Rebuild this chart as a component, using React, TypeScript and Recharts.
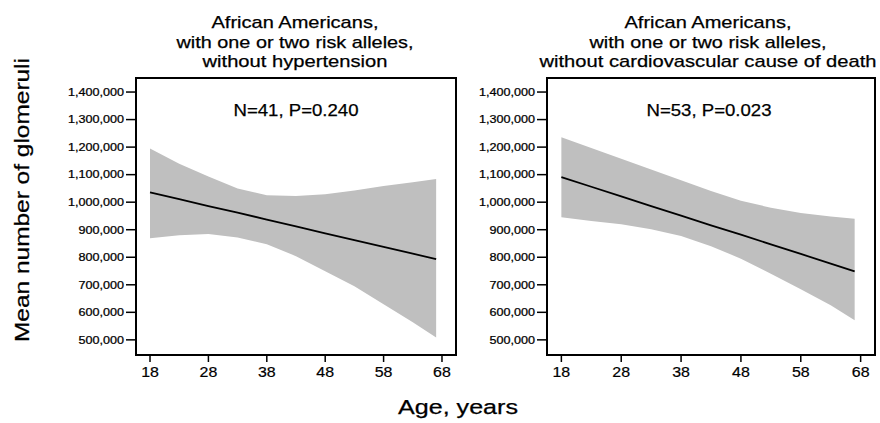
import React from "react";
import { ComposedChart, Area, Line, XAxis, YAxis, ReferenceArea } from "recharts";

const ages = [18, 23, 28, 33, 38, 43, 48, 53, 58, 63, 67];

// left panel: without hypertension
const leftFit = [1036000, 1011000, 986000, 962000, 937000, 912000, 887000, 862000, 838000, 813000, 793000];
const leftLo = [869000, 880000, 884000, 872000, 847000, 804000, 749000, 695000, 629000, 564000, 509000];
const leftHi = [1195000, 1140000, 1093000, 1050000, 1025000, 1022000, 1029000, 1042000, 1059000, 1072000, 1084000];

// right panel: without cardiovascular cause of death
const rightFit = [1091000, 1056000, 1021000, 986000, 951000, 916000, 882000, 847000, 812000, 777000, 749000];
const rightLo = [945000, 932000, 920000, 902000, 877000, 840000, 795000, 740000, 684000, 626000, 571000];
const rightHi = [1236000, 1197000, 1158000, 1119000, 1080000, 1041000, 1005000, 980000, 961000, 948000, 940000];

const xTicks = [18, 28, 38, 48, 58, 68];
const yTicks = [500000, 600000, 700000, 800000, 900000, 1000000, 1100000, 1200000, 1300000, 1400000];
const xDomain: [number, number] = [15.6, 70.4];
const yDomain: [number, number] = [445000, 1451000];

const leftTitle = ["African Americans,", "with one or two risk alleles,", "without hypertension"];
const rightTitle = ["African Americans,", "with one or two risk alleles,", "without cardiovascular cause of death"];
const leftStat = "N=41, P=0.240";
const rightStat = "N=53, P=0.023";

const FONT = "Arial, 'Liberation Sans', sans-serif";

const build = (fit: number[], lo: number[], hi: number[]) =>
    ages.map((a, i) => ({ age: a, fit: fit[i], band: [lo[i], hi[i]] }));

const YTick = (props: any) => {
    const { x, y, payload } = props;
    return (
        <text transform={`translate(${x},${y}) scale(1.2,1)`} textAnchor="end" dy="0.36em"
            fontFamily={FONT} fontSize={10.5} fill="#000" stroke="#000" strokeWidth={0.25}>
            {Number(payload.value).toLocaleString("en-US")}
        </text>
    );
};

const XTick = (props: any) => {
    const { x, y, payload } = props;
    return (
        <text transform={`translate(${x},${y}) scale(1.1,1)`} textAnchor="middle" dy="0.8em"
            fontFamily={FONT} fontSize={14.5} fill="#000" stroke="#000" strokeWidth={0.2}>
            {payload.value}
        </text>
    );
};

function Panel({ data, width, yWidth, right }: { data: any[]; width: number; yWidth: number; right: number }) {
    return (
        <ComposedChart width={width} height={423} data={data} margin={{ top: 78, right, bottom: 0, left: 0 }}>
            <XAxis type="number" dataKey="age" domain={xDomain} ticks={xTicks} allowDataOverflow
                height={68} tickSize={7} tickMargin={3} axisLine={false}
                tickLine={{ stroke: "#000", strokeWidth: 1.5 }} tick={<XTick />} />
            <YAxis type="number" domain={yDomain} ticks={yTicks} allowDataOverflow
                width={yWidth} tickSize={10} tickMargin={2} axisLine={false}
                tickLine={{ stroke: "#000", strokeWidth: 1.5 }} tick={<YTick />} />
            <Area type="linear" dataKey="band" stroke="none" fill="#bfbfbf" fillOpacity={1} isAnimationActive={false} />
            <Line type="linear" dataKey="fit" stroke="#000" strokeWidth={1.8} dot={false} isAnimationActive={false} />
            <ReferenceArea x1={xDomain[0]} x2={xDomain[1]} y1={yDomain[0]} y2={yDomain[1]}
                fill="none" stroke="#000" strokeWidth={2} ifOverflow="visible" />
        </ComposedChart>
    );
}

const titleWidths = [167, 237];

export default function App() {
    const left = build(leftFit, leftLo, leftHi);
    const right = build(rightFit, rightLo, rightHi);
    return (
        <div style={{ position: "absolute", left: 0, top: 0, width: 880, height: 423, background: "#fff" }}>
            <div style={{ position: "absolute", left: 0, top: 0 }}>
                <Panel data={left} width={470} yWidth={136} right={14} />
            </div>
            <div style={{ position: "absolute", left: 450, top: 0 }}>
                <Panel data={right} width={430} yWidth={97} right={5} />
            </div>
            <svg width={880} height={423} style={{ position: "absolute", left: 0, top: 0, pointerEvents: "none" }}
                fontFamily={FONT} fill="#000" stroke="#000" strokeWidth={0.25}>
                {leftTitle.map((t, i) => (
                    <text key={"l" + i} x={295} y={28 + i * 19.5} textAnchor="middle" fontSize={17}
                        textLength={i < 2 ? titleWidths[i] : 185} lengthAdjust="spacingAndGlyphs">{t}</text>
                ))}
                {rightTitle.map((t, i) => (
                    <text key={"r" + i} x={708} y={28 + i * 19.5} textAnchor="middle" fontSize={17}
                        textLength={i < 2 ? titleWidths[i] : 337} lengthAdjust="spacingAndGlyphs">{t}</text>
                ))}
                <text x={296} y={116} textAnchor="middle" fontSize={17} textLength={125} lengthAdjust="spacingAndGlyphs">{leftStat}</text>
                <text x={709} y={116} textAnchor="middle" fontSize={17} textLength={125} lengthAdjust="spacingAndGlyphs">{rightStat}</text>
                <text x={458} y={414} textAnchor="middle" fontSize={20.5} textLength={120} lengthAdjust="spacingAndGlyphs">Age, years</text>
                <text transform="translate(29,200) rotate(-90)" textAnchor="middle" fontSize={20.5}
                    textLength={284} lengthAdjust="spacingAndGlyphs">Mean number of glomeruli</text>
            </svg>
        </div>
    );
}
